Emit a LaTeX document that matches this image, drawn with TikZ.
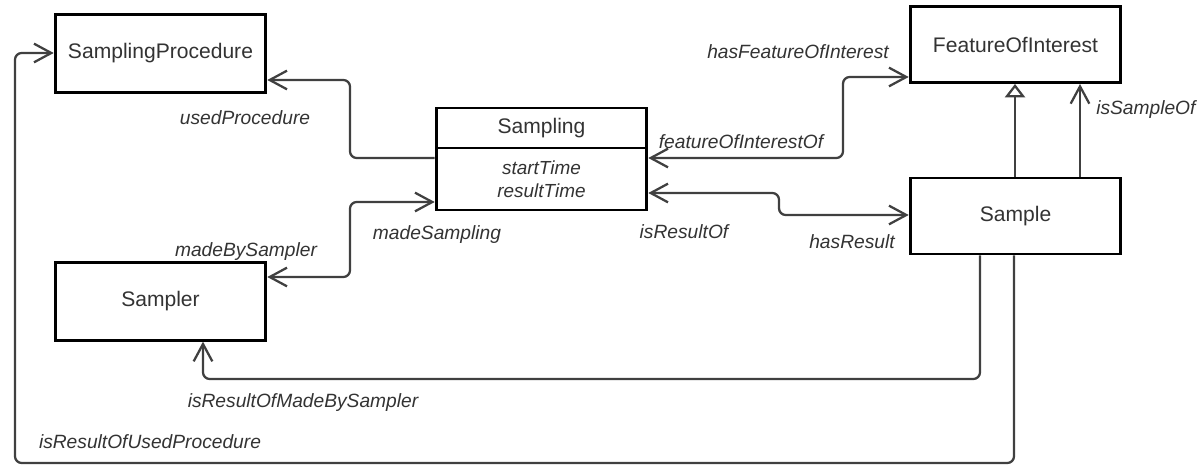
\documentclass[tikz,border=0pt]{standalone}
\usepackage{fontspec}
\setmainfont{Liberation Sans}
\usetikzlibrary{arrows.meta}
\definecolor{lgrey}{RGB}{64,64,64}
\definecolor{tgrey}{RGB}{51,51,51}
\tikzset{
  box/.style={draw=black, line width=2.2pt, fill=white, minimum width=158pt, inner sep=0pt, text=tgrey, font=\fontsize{15.8}{19}\selectfont},
  lbl/.style={inner sep=0pt, text=tgrey, font=\fontsize{14.4}{17}\selectfont\itshape},
  rel/.style={draw=lgrey, line width=1.7pt, rounded corners=5pt, line join=round, >={Straight Barb[length=13pt,width=14pt]}},
  gen/.style={draw=lgrey, line width=1.7pt, -{Triangle[open,length=10pt,width=15pt,fill=white]}},
  umlclass/.style={x=0.75pt, y=-0.75pt}
}
\begin{document}
\begin{tikzpicture}[umlclass]
\useasboundingbox (0,0) rectangle (1202,466);
% classes
\node[box, minimum height=58pt] (sproc) at (160.5,53.5) {SamplingProcedure};
\node[box, minimum height=57pt] (foi) at (1015.5,44.5) {FeatureOfInterest};
\node[box, minimum height=30pt] (samp) at (541.5,128) {Sampling};
\node[box, minimum height=46.5pt, anchor=north, yshift=2.2pt, font=\fontsize{14.2}{17}\selectfont\itshape, align=center] (sattr) at (samp.south) {startTime\\resultTime};
\node[box, minimum height=57pt] (sample) at (1015.5,216) {Sample};
\node[box, minimum height=58pt] (sampler) at (160.5,301.5) {Sampler};
% relations
\draw[rel,<-] (sproc.east |- 0,80) -| (350,158) -- (sattr.west |- 0,158);
\draw[rel,<->] (sampler.east |- 0,277) -| (350,202) -- (sattr.west |- 0,202);
\draw[rel,<->] (sattr.east |- 0,158) -| (843,77) -- (foi.west |- 0,77);
\draw[rel,<->] (sattr.east |- 0,193) -| (779,215) -- (sample.west |- 0,215);
\draw[gen] (sample.north -| 1015,0) -- (foi.south -| 1015,0);
\draw[rel,->] (sample.north -| 1080,0) -- (foi.south -| 1080,0);
\draw[rel,->] (sample.south -| 980,0) |- (203,379) -- (sampler.south -| 203,0);
\draw[rel,->] (sample.south -| 1014,0) |- (15,463) |- (sproc.west |- 0,53);
% labels
\node[lbl] (usedp) at (245,118) {usedProcedure};
\node[lbl] (madeby) at (246,252) {madeBySampler};
\node[lbl] (made) at (437,235) {madeSampling};
\node[lbl] (foiof) at (741,142) {featureOfInterestOf};
\node[lbl] (hasfoi) at (798,52) {hasFeatureOfInterest};
\node[lbl] (resof) at (684,232) {isResultOf};
\node[lbl] (hasres) at (852,242) {hasResult};
\node[lbl, anchor=west] (sampof) at (1096,110) {isSampleOf};
\node[lbl] (resmade) at (303,403) {isResultOfMadeBySampler};
\node[lbl] (resused) at (150,442) {isResultOfUsedProcedure};
\end{tikzpicture}
\end{document}
